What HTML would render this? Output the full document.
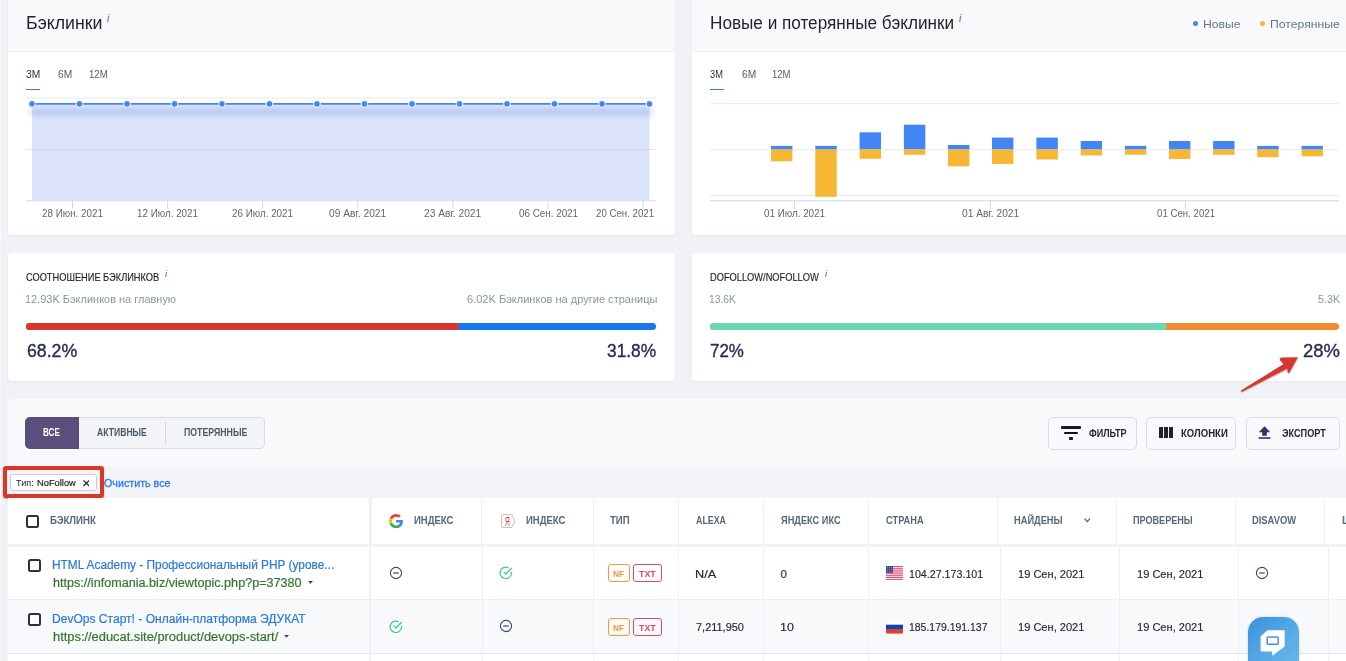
<!DOCTYPE html>
<html><head><meta charset="utf-8"><title>Бэклинки</title>
<style>
*{margin:0;padding:0;box-sizing:border-box}
html,body{width:1346px;height:661px;overflow:hidden}
body{background:#f1f2f6;font-family:"Liberation Sans",sans-serif;position:relative}
.a{position:absolute}
.t{position:absolute;line-height:1;white-space:nowrap}
</style></head><body>
<div class="a" style="left:0px;top:0px;width:1px;height:661px;background:#f8f9fb"></div>
<div class="a" style="left:8px;top:-10px;width:667px;height:245px;background:#fff;border-radius:4px;box-shadow:0 1px 2px rgba(30,40,80,.05);overflow:hidden"><div style="position:absolute;left:0;top:0;width:100%;height:62px;background:#f9f9fb;border-bottom:1.2px solid #eef0f4"></div></div>
<div class="a" style="left:692px;top:-10px;width:667px;height:245px;background:#fff;border-radius:4px;box-shadow:0 1px 2px rgba(30,40,80,.05);overflow:hidden"><div style="position:absolute;left:0;top:0;width:100%;height:62px;background:#f9f9fb;border-bottom:1.2px solid #eef0f4"></div></div>
<div class="a" style="left:8px;top:253px;width:667px;height:128px;background:#fff;border-radius:4px;box-shadow:0 1px 2px rgba(30,40,80,.05);overflow:hidden"></div>
<div class="a" style="left:692px;top:253px;width:667px;height:128px;background:#fff;border-radius:4px;box-shadow:0 1px 2px rgba(30,40,80,.05);overflow:hidden"></div>
<div class="t" style="top:13.56px;font-size:18px;color:#1f232b;left:25.80px;transform:scaleX(0.9877);transform-origin:0 0;">Бэклинки</div>
<div class="t" style="top:14.14px;font-size:10px;color:#4d5d6c;left:107.00px;transform:scaleX(1.0000);transform-origin:0 0;font-style:italic;">i</div>
<div class="t" style="top:13.56px;font-size:18px;color:#1f232b;left:709.80px;transform:scaleX(0.9527);transform-origin:0 0;">Новые и потерянные бэклинки</div>
<div class="t" style="top:14.14px;font-size:10px;color:#4d5d6c;left:959.00px;transform:scaleX(1.0000);transform-origin:0 0;font-style:italic;">i</div>
<div class="a" style="left:1193px;top:21px;width:5px;height:5px;background:#4285f4;border-radius:50%"></div>
<div class="t" style="top:19.07px;font-size:11.5px;color:#62788a;left:1203.40px;transform:scaleX(1.0596);transform-origin:0 0;">Новые</div>
<div class="a" style="left:1259.5px;top:21px;width:5px;height:5px;background:#f6b735;border-radius:50%"></div>
<div class="t" style="top:19.07px;font-size:11.5px;color:#62788a;left:1269.60px;transform:scaleX(1.0617);transform-origin:0 0;">Потерянные</div>
<div class="t" style="top:69.53px;font-size:10px;color:#2b3350;left:25.90px;transform:scaleX(1.0208);transform-origin:0 0;">3M</div>
<div class="t" style="top:69.53px;font-size:10px;color:#4f5d6a;left:57.70px;transform:scaleX(1.0201);transform-origin:0 0;">6M</div>
<div class="t" style="top:69.53px;font-size:10px;color:#4f5d6a;left:88.80px;transform:scaleX(0.9583);transform-origin:0 0;">12M</div>
<div class="a" style="left:26px;top:88.5px;width:14px;height:1.8px;background:#3a7be0"></div>
<div class="t" style="top:69.53px;font-size:10px;color:#2b3350;left:709.90px;transform:scaleX(0.9286);transform-origin:0 0;">3M</div>
<div class="t" style="top:69.53px;font-size:10px;color:#4f5d6a;left:741.50px;transform:scaleX(1.0208);transform-origin:0 0;">6M</div>
<div class="t" style="top:69.53px;font-size:10px;color:#4f5d6a;left:772.40px;transform:scaleX(0.9486);transform-origin:0 0;">12M</div>
<div class="a" style="left:710px;top:88.5px;width:14px;height:1.8px;background:#3a7be0"></div>
<svg class="a" style="left:0;top:0" width="1346" height="240" viewBox="0 0 1346 240"><defs><filter id="bl" filterUnits="userSpaceOnUse" x="0" y="90" width="700" height="50"><feGaussianBlur stdDeviation="3"/></filter><clipPath id="pc"><rect x="26.5" y="98" width="629" height="103"/></clipPath></defs><rect x="26" y="97.3" width="630" height="1.3" fill="#eeeeee"/><rect x="26" y="149" width="630" height="1" fill="#e3e7f0"/><rect x="32" y="104" width="617.5" height="96.5" fill="#dae3fa"/><g clip-path="url(#pc)"><line x1="30" y1="112" x2="652" y2="112" stroke="#7a9cf0" stroke-width="4.5" stroke-opacity="0.6" filter="url(#bl)"/></g><rect x="26" y="200" width="630" height="1.3" fill="#dce3f0"/><rect x="72.0" y="200" width="1" height="8.5" fill="#d0daee"/><rect x="167.1" y="200" width="1" height="8.5" fill="#d0daee"/><rect x="262.2" y="200" width="1" height="8.5" fill="#d0daee"/><rect x="357.3" y="200" width="1" height="8.5" fill="#d0daee"/><rect x="452.4" y="200" width="1" height="8.5" fill="#d0daee"/><rect x="547.5" y="200" width="1" height="8.5" fill="#d0daee"/><rect x="642.6" y="200" width="1" height="8.5" fill="#d0daee"/><rect x="32" y="149" width="617.5" height="1" fill="#8a94b8" fill-opacity="0.13"/><line x1="32" y1="103.9" x2="649.5" y2="103.9" stroke="#4285f4" stroke-width="1.9"/><circle cx="32.0" cy="103.9" r="3.4" fill="#4285f4" stroke="#fff" stroke-width="1"/><circle cx="79.5" cy="103.9" r="3.4" fill="#4285f4" stroke="#fff" stroke-width="1"/><circle cx="127.0" cy="103.9" r="3.4" fill="#4285f4" stroke="#fff" stroke-width="1"/><circle cx="174.5" cy="103.9" r="3.4" fill="#4285f4" stroke="#fff" stroke-width="1"/><circle cx="222.0" cy="103.9" r="3.4" fill="#4285f4" stroke="#fff" stroke-width="1"/><circle cx="269.5" cy="103.9" r="3.4" fill="#4285f4" stroke="#fff" stroke-width="1"/><circle cx="317.0" cy="103.9" r="3.4" fill="#4285f4" stroke="#fff" stroke-width="1"/><circle cx="364.5" cy="103.9" r="3.4" fill="#4285f4" stroke="#fff" stroke-width="1"/><circle cx="412.0" cy="103.9" r="3.4" fill="#4285f4" stroke="#fff" stroke-width="1"/><circle cx="459.5" cy="103.9" r="3.4" fill="#4285f4" stroke="#fff" stroke-width="1"/><circle cx="507.0" cy="103.9" r="3.4" fill="#4285f4" stroke="#fff" stroke-width="1"/><circle cx="554.5" cy="103.9" r="3.4" fill="#4285f4" stroke="#fff" stroke-width="1"/><circle cx="602.0" cy="103.9" r="3.4" fill="#4285f4" stroke="#fff" stroke-width="1"/><circle cx="649.5" cy="103.9" r="3.4" fill="#4285f4" stroke="#fff" stroke-width="1"/><rect x="710" y="103" width="629" height="1.3" fill="#eeeeee"/><rect x="710" y="149" width="629" height="1.3" fill="#eeeeee"/><rect x="710" y="195" width="629" height="1.3" fill="#eeeeee"/><rect x="710" y="200" width="629" height="1.5" fill="#dce3f0"/><rect x="793.9" y="200" width="1" height="9" fill="#d0daee"/><rect x="989.8" y="200" width="1" height="9" fill="#d0daee"/><rect x="1185.0" y="200" width="1" height="9" fill="#d0daee"/><rect x="771" y="145.9" width="21.4" height="3.6" fill="#4285f4"/><rect x="771" y="149.5" width="21.4" height="11.8" fill="#f6b735"/><rect x="815.3" y="145.9" width="21.4" height="3.6" fill="#4285f4"/><rect x="815.3" y="149.5" width="21.4" height="47.3" fill="#f6b735"/><rect x="859.6" y="132.3" width="21.4" height="17.2" fill="#4285f4"/><rect x="859.6" y="149.5" width="21.4" height="9.3" fill="#f6b735"/><rect x="903.9" y="124.7" width="21.4" height="24.8" fill="#4285f4"/><rect x="903.9" y="149.5" width="21.4" height="5.3" fill="#f6b735"/><rect x="948" y="145" width="21.4" height="4.5" fill="#4285f4"/><rect x="948" y="149.5" width="21.4" height="16.8" fill="#f6b735"/><rect x="992" y="137.6" width="21.4" height="11.9" fill="#4285f4"/><rect x="992" y="149.5" width="21.4" height="14.4" fill="#f6b735"/><rect x="1036.4" y="137.6" width="21.4" height="11.9" fill="#4285f4"/><rect x="1036.4" y="149.5" width="21.4" height="10.0" fill="#f6b735"/><rect x="1080.7" y="141" width="21.4" height="8.5" fill="#4285f4"/><rect x="1080.7" y="149.5" width="21.4" height="6.0" fill="#f6b735"/><rect x="1124.9" y="145.9" width="21.4" height="3.6" fill="#4285f4"/><rect x="1124.9" y="149.5" width="21.4" height="5.3" fill="#f6b735"/><rect x="1169" y="141" width="21.4" height="8.5" fill="#4285f4"/><rect x="1169" y="149.5" width="21.4" height="9.5" fill="#f6b735"/><rect x="1213.1" y="141" width="21.4" height="8.5" fill="#4285f4"/><rect x="1213.1" y="149.5" width="21.4" height="5.3" fill="#f6b735"/><rect x="1257.2" y="145.9" width="21.4" height="3.6" fill="#4285f4"/><rect x="1257.2" y="149.5" width="21.4" height="7.7" fill="#f6b735"/><rect x="1301.5" y="145.9" width="21.4" height="3.6" fill="#4285f4"/><rect x="1301.5" y="149.5" width="21.4" height="6.8" fill="#f6b735"/></svg>
<div class="t" style="top:208.63px;font-size:10px;color:#666666;left:41.90px;transform:scaleX(0.9849);transform-origin:0 0;">28 Июн. 2021</div>
<div class="t" style="top:208.63px;font-size:10px;color:#666666;left:136.80px;transform:scaleX(0.9843);transform-origin:0 0;">12 Июл. 2021</div>
<div class="t" style="top:208.63px;font-size:10px;color:#666666;left:232.30px;transform:scaleX(0.9845);transform-origin:0 0;">26 Июл. 2021</div>
<div class="t" style="top:208.63px;font-size:10px;color:#666666;left:329.10px;transform:scaleX(1.0187);transform-origin:0 0;">09 Авг. 2021</div>
<div class="t" style="top:208.63px;font-size:10px;color:#666666;left:424.00px;transform:scaleX(1.0179);transform-origin:0 0;">23 Авг. 2021</div>
<div class="t" style="top:208.63px;font-size:10px;color:#666666;left:518.50px;transform:scaleX(0.9839);transform-origin:0 0;">06 Сен. 2021</div>
<div class="t" style="top:208.63px;font-size:10px;color:#666666;left:595.60px;transform:scaleX(0.9673);transform-origin:0 0;">20 Сен. 2021</div>
<div class="t" style="top:208.63px;font-size:10px;color:#666666;left:763.90px;transform:scaleX(0.9845);transform-origin:0 0;">01 Июл. 2021</div>
<div class="t" style="top:208.63px;font-size:10px;color:#666666;left:961.60px;transform:scaleX(1.0179);transform-origin:0 0;">01 Авг. 2021</div>
<div class="t" style="top:208.63px;font-size:10px;color:#666666;left:1156.50px;transform:scaleX(0.9673);transform-origin:0 0;">01 Сен. 2021</div>
<div class="t" style="top:272.68px;font-size:10.3px;color:#1c1f26;left:26.10px;transform:scaleX(0.8985);transform-origin:0 0;-webkit-text-stroke:0.15px #1c1f26;">СООТНОШЕНИЕ БЭКЛИНКОВ</div>
<div class="t" style="top:269.98px;font-size:9px;color:#4d5d6c;left:165.00px;transform:scaleX(1.0000);transform-origin:0 0;font-style:italic;">i</div>
<div class="t" style="top:293.84px;font-size:10.7px;color:#8797a5;left:25.30px;transform:scaleX(1.0265);transform-origin:0 0;">12.93K Бэклинков на главную</div>
<div class="t" style="top:293.84px;font-size:10.7px;color:#8797a5;left:466.50px;transform:scaleX(1.0326);transform-origin:0 0;">6.02K Бэклинков на другие страницы</div>
<div class="a" style="left:26px;top:323px;width:630px;height:7px;border-radius:4px;background:#1677f0"></div>
<div class="a" style="left:26px;top:323px;width:433px;height:7px;border-radius:4px;background:#d9372e"></div>
<div class="t" style="top:341.52px;font-size:18.4px;color:#262b52;left:26.70px;transform:scaleX(0.9631);transform-origin:0 0;-webkit-text-stroke:0.35px #262b52;">68.2%</div>
<div class="t" style="top:341.52px;font-size:18.4px;color:#262b52;left:607.00px;transform:scaleX(0.9416);transform-origin:0 0;-webkit-text-stroke:0.35px #262b52;">31.8%</div>
<div class="t" style="top:272.68px;font-size:10.3px;color:#1c1f26;left:709.60px;transform:scaleX(0.9008);transform-origin:0 0;-webkit-text-stroke:0.15px #1c1f26;">DOFOLLOW/NOFOLLOW</div>
<div class="t" style="top:269.98px;font-size:9px;color:#4d5d6c;left:825.00px;transform:scaleX(1.0000);transform-origin:0 0;font-style:italic;">i</div>
<div class="t" style="top:293.84px;font-size:10.7px;color:#8797a5;left:709.00px;transform:scaleX(0.9664);transform-origin:0 0;">13.6K</div>
<div class="t" style="top:293.84px;font-size:10.7px;color:#8797a5;left:1317.70px;transform:scaleX(1.0077);transform-origin:0 0;">5.3K</div>
<div class="a" style="left:710px;top:323px;width:629.3px;height:7px;border-radius:4px;background:#f08a33"></div>
<div class="a" style="left:710px;top:323px;width:457px;height:7px;border-radius:4px;background:#6bd6b1"></div>
<div class="t" style="top:341.52px;font-size:18.4px;color:#262b52;left:710.00px;transform:scaleX(0.9193);transform-origin:0 0;-webkit-text-stroke:0.35px #262b52;">72%</div>
<div class="t" style="top:341.52px;font-size:18.4px;color:#262b52;left:1303.00px;transform:scaleX(1.0031);transform-origin:0 0;-webkit-text-stroke:0.35px #262b52;">28%</div>
<div class="a" style="left:8px;top:399px;width:1400px;height:68px;background:#f9f9fb;border-radius:4px 0 0 0"></div>
<div class="a" style="left:8px;top:467px;width:1400px;height:31px;background:#f3f4f8"></div>
<div class="a" style="left:25px;top:417.4px;width:239.6px;height:31.3px;border:1px solid #d9dce4;border-radius:5px;background:#f3f4f8"></div>
<div class="a" style="left:164.9px;top:422.2px;width:1px;height:21.4px;background:#d5d8e0"></div>
<div class="a" style="left:25px;top:416.8px;width:54px;height:32px;background:#5a4f7c;border-radius:5px 0 0 5px"></div>
<div class="t" style="top:428.34px;font-size:10px;color:#fff;font-weight:700;left:43.20px;transform:scaleX(0.8093);transform-origin:0 0;">ВСЕ</div>
<div class="t" style="top:428.34px;font-size:10px;color:#4b5966;font-weight:700;left:97.10px;transform:scaleX(0.8622);transform-origin:0 0;">АКТИВНЫЕ</div>
<div class="t" style="top:428.34px;font-size:10px;color:#4b5966;font-weight:700;left:183.80px;transform:scaleX(0.8764);transform-origin:0 0;">ПОТЕРЯННЫЕ</div>
<div class="a" style="left:1048.4px;top:417px;width:88.2px;height:32.5px;border:1px solid #d9dce4;border-radius:5px;background:#f9f9fb"></div>
<div class="a" style="left:1146.4px;top:417px;width:90px;height:32.5px;border:1px solid #d9dce4;border-radius:5px;background:#f9f9fb"></div>
<div class="a" style="left:1246.2px;top:417px;width:93.4px;height:32.5px;border:1px solid #d9dce4;border-radius:5px;background:#f9f9fb"></div>
<div class="t" style="top:428.97px;font-size:10.2px;color:#1f232b;font-weight:700;left:1088.90px;transform:scaleX(0.8834);transform-origin:0 0;">ФИЛЬТР</div>
<div class="t" style="top:428.97px;font-size:10.2px;color:#1f232b;font-weight:700;left:1180.50px;transform:scaleX(0.9396);transform-origin:0 0;">КОЛОНКИ</div>
<div class="t" style="top:428.97px;font-size:10.2px;color:#1f232b;font-weight:700;left:1282.10px;transform:scaleX(0.8990);transform-origin:0 0;">ЭКСПОРТ</div>
<div class="a" style="left:1061.1px;top:426.3px;width:19.8px;height:2.3px;background:#1a1d26;border-radius:1px"></div>
<div class="a" style="left:1064.3px;top:431.9px;width:13.4px;height:2.1px;background:#0f1119;border-radius:1px"></div>
<div class="a" style="left:1068.8px;top:437.3px;width:4.3px;height:2.3px;background:#1a1d26;border-radius:0.8px"></div>
<div class="a" style="left:1158.7px;top:426.9px;width:4.2px;height:10.9px;background:#1f232b"></div>
<div class="a" style="left:1163.8px;top:426.9px;width:4.2px;height:10.9px;background:#1f232b"></div>
<div class="a" style="left:1168.9px;top:426.9px;width:4.2px;height:10.9px;background:#1f232b"></div>
<svg class="a" style="left:1258.1px;top:426px" width="13" height="13" viewBox="0 0 13 13"><path d="M6.5 0.3 L12.2 6.2 H8.8 V9.8 H4.2 V6.2 H0.8 Z" fill="#2c3566"/><rect x="0.6" y="11.2" width="11.8" height="1.6" fill="#2c3566"/></svg>
<div class="a" style="left:3.3px;top:466.3px;width:100.3px;height:32.1px;border:4px solid #d8352b;border-radius:3px;box-shadow:0 1px 1.5px rgba(0,0,0,.35)"></div>
<div class="a" style="left:10.4px;top:474.3px;width:87px;height:17.2px;background:#fff;border:1px solid #c9ccd4;border-radius:3px"></div>
<div class="t" style="top:477.97px;font-size:9.6px;color:#222;left:16.30px;transform:scaleX(0.9486);transform-origin:0 0;">Тип:</div>
<div class="t" style="top:477.97px;font-size:9.6px;color:#222;left:36.60px;transform:scaleX(0.9709);transform-origin:0 0;-webkit-text-stroke:0.2px #222;">NoFollow</div>
<svg class="a" style="left:82.6px;top:480.3px" width="6.7" height="6.4" viewBox="0 0 6.7 6.4"><path d="M0.5 0.4 L6.2 6 M6.2 0.4 L0.5 6" stroke="#222" stroke-width="1.2"/></svg>
<div class="t" style="top:477.52px;font-size:11.2px;color:#2c7be5;left:103.60px;transform:scaleX(0.9571);transform-origin:0 0;-webkit-text-stroke:0.3px #2c7be5;">Очистить все</div>
<div class="a" style="left:8px;top:497.7px;width:1400px;height:46.3px;background:#fff"></div>
<div class="a" style="left:8px;top:546.7px;width:1400px;height:52px;background:#fff"></div>
<div class="a" style="left:8px;top:599.3px;width:1400px;height:53.5px;background:#f8f9fb"></div>
<div class="a" style="left:8px;top:654px;width:1400px;height:10px;background:#fff"></div>
<div class="a" style="left:8px;top:598.6px;width:1400px;height:0.9px;background:#eceef3"></div>
<div class="a" style="left:8px;top:652.8px;width:1400px;height:1.3px;background:#dfe3eb"></div>
<div class="a" style="left:369px;top:497.7px;width:3px;height:46.3px;background:#f0f1f5"></div>
<div class="a" style="left:481px;top:497.7px;width:1px;height:46.3px;background:#eceef3"></div>
<div class="a" style="left:593px;top:497.7px;width:1px;height:46.3px;background:#eceef3"></div>
<div class="a" style="left:678px;top:497.7px;width:1px;height:46.3px;background:#eceef3"></div>
<div class="a" style="left:763px;top:497.7px;width:1px;height:46.3px;background:#eceef3"></div>
<div class="a" style="left:868px;top:497.7px;width:1px;height:46.3px;background:#eceef3"></div>
<div class="a" style="left:997px;top:497.7px;width:1px;height:46.3px;background:#eceef3"></div>
<div class="a" style="left:1116px;top:497.7px;width:1px;height:46.3px;background:#eceef3"></div>
<div class="a" style="left:1235px;top:497.7px;width:1px;height:46.3px;background:#eceef3"></div>
<div class="a" style="left:1324px;top:497.7px;width:1px;height:46.3px;background:#eceef3"></div>
<div class="a" style="left:369px;top:546.7px;width:2px;height:120px;background:#f0f1f5"></div>
<div class="a" style="left:482px;top:546.7px;width:1px;height:120px;background:#eef0f4"></div>
<div class="a" style="left:593px;top:546.7px;width:1px;height:120px;background:#eef0f4"></div>
<div class="a" style="left:678px;top:546.7px;width:1px;height:120px;background:#eef0f4"></div>
<div class="a" style="left:763px;top:546.7px;width:1px;height:120px;background:#eef0f4"></div>
<div class="a" style="left:868px;top:546.7px;width:1px;height:120px;background:#eef0f4"></div>
<div class="a" style="left:1000px;top:546.7px;width:1px;height:120px;background:#eef0f4"></div>
<div class="a" style="left:1119px;top:546.7px;width:1px;height:120px;background:#eef0f4"></div>
<div class="a" style="left:1238px;top:546.7px;width:1px;height:120px;background:#eef0f4"></div>
<div class="a" style="left:1328px;top:546.7px;width:1px;height:120px;background:#eef0f4"></div>
<div class="a" style="left:26.1px;top:515.1px;width:12.7px;height:12.7px;border:2px solid #2e313b;border-radius:2.5px;background:#fff"></div>
<div class="t" style="top:516.13px;font-size:10px;color:#56697a;font-weight:700;left:50.10px;transform:scaleX(0.9609);transform-origin:0 0;">БЭКЛИНК</div>
<div class="t" style="top:516.13px;font-size:10px;color:#56697a;font-weight:700;left:414.10px;transform:scaleX(0.9518);transform-origin:0 0;">ИНДЕКС</div>
<div class="t" style="top:516.13px;font-size:10px;color:#56697a;font-weight:700;left:525.50px;transform:scaleX(0.9518);transform-origin:0 0;">ИНДЕКС</div>
<div class="t" style="top:516.13px;font-size:10px;color:#56697a;font-weight:700;left:610.20px;transform:scaleX(0.9592);transform-origin:0 0;">ТИП</div>
<div class="t" style="top:516.13px;font-size:10px;color:#56697a;font-weight:700;left:695.70px;transform:scaleX(0.8831);transform-origin:0 0;">ALEXA</div>
<div class="t" style="top:516.13px;font-size:10px;color:#56697a;font-weight:700;left:780.50px;transform:scaleX(0.9233);transform-origin:0 0;">ЯНДЕКС ИКС</div>
<div class="t" style="top:516.13px;font-size:10px;color:#56697a;font-weight:700;left:885.90px;transform:scaleX(0.9280);transform-origin:0 0;">СТРАНА</div>
<div class="t" style="top:516.13px;font-size:10px;color:#56697a;font-weight:700;left:1014.10px;transform:scaleX(0.9265);transform-origin:0 0;">НАЙДЕНЫ</div>
<div class="t" style="top:516.13px;font-size:10px;color:#56697a;font-weight:700;left:1133.00px;transform:scaleX(0.9089);transform-origin:0 0;">ПРОВЕРЕНЫ</div>
<div class="t" style="top:516.13px;font-size:10px;color:#56697a;font-weight:700;left:1252.30px;transform:scaleX(0.9372);transform-origin:0 0;">DISAVOW</div>
<div class="t" style="top:516.13px;font-size:10px;color:#56697a;font-weight:700;left:1342.00px;">L</div>
<svg class="a" style="left:1084.3px;top:518.2px" width="6.5" height="4.6" viewBox="0 0 6.5 4.6"><path d="M0.6 0.6 L3.25 3.6 L5.9 0.6" stroke="#4f6271" stroke-width="1.3" fill="none"/></svg>
<svg class="a" style="left:388.8px;top:513.8px" width="14.2" height="14.2" viewBox="0 0 48 48"><path fill="#EA4335" d="M24 9.5c3.54 0 6.71 1.22 9.21 3.6l6.85-6.85C35.9 2.38 30.47 0 24 0 14.62 0 6.51 5.38 2.56 13.22l7.98 6.19C12.43 13.72 17.74 9.5 24 9.5z"/><path fill="#4285F4" d="M46.98 24.55c0-1.57-.15-3.09-.38-4.55H24v9.02h12.94c-.58 2.96-2.26 5.48-4.78 7.18l7.73 6c4.51-4.18 7.09-10.36 7.09-17.65z"/><path fill="#FBBC05" d="M10.53 28.59c-.48-1.45-.76-2.99-.76-4.59s.27-3.14.76-4.59l-7.98-6.19C.92 16.46 0 20.12 0 24c0 3.88.92 7.54 2.56 10.78l7.97-6.19z"/><path fill="#34A853" d="M24 48c6.48 0 11.93-2.13 15.89-5.81l-7.73-6c-2.15 1.45-4.92 2.3-8.16 2.3-6.26 0-11.57-4.22-13.47-9.91l-7.98 6.19C6.51 42.62 14.62 48 24 48z"/></svg>
<svg class="a" style="left:500.6px;top:513.8px" width="14.6" height="14.2" viewBox="0 0 14.6 14.2"><path d="M1.6 0.6 H10.6 L14 7.1 L10.6 13.6 H1.6 Q0.6 13.6 0.6 12.6 V1.6 Q0.6 0.6 1.6 0.6 Z" fill="#fff" stroke="#b9b9b9" stroke-width="0.9"/><text x="0" y="0" font-family="Liberation Sans, sans-serif" font-size="13.4" fill="#e3262a" transform="translate(3.9 11.9) scale(0.5 1)">Я</text></svg>
<div class="a" style="left:28px;top:559px;width:12.7px;height:12.7px;border:2px solid #2e313b;border-radius:2.5px;background:#fff"></div>
<div class="t" style="top:558.74px;font-size:12px;color:#2a7ad8;left:51.80px;transform:scaleX(0.9894);transform-origin:0 0;-webkit-text-stroke:0.2px #2a7ad8;">HTML Academy - Профессиональный PHP (урове...</div>
<div class="t" style="top:576.64px;font-size:12px;color:#357530;left:52.80px;transform:scaleX(1.0513);transform-origin:0 0;-webkit-text-stroke:0.2px #357530;">https://infomania.biz/viewtopic.php?p=37380</div>
<svg class="a" style="left:307.5px;top:580.8px" width="5" height="3" viewBox="0 0 5 3"><path d="M0 0 H5 L2.5 2.7 Z" fill="#3c4249"/></svg>
<svg class="a" style="left:388.85px;top:565.55px" width="14" height="14" viewBox="0 0 14 14"><circle cx="7" cy="7" r="5.6" stroke="#3d4470" stroke-width="1.1" fill="none"/><line x1="4.2" y1="7" x2="9.8" y2="7" stroke="#3d4470" stroke-width="1.2"/></svg>
<svg class="a" style="left:498.95px;top:565.85px" width="13.7" height="13.7" viewBox="0 0 24 24"><path d="M22 11.08V12a10 10 0 1 1-5.93-9.14" stroke="#3ecb91" stroke-width="2.15" fill="none" stroke-linecap="round"/><polyline points="22 4 12 14.01 9 11.01" stroke="#3ecb91" stroke-width="2.15" fill="none" stroke-linecap="round" stroke-linejoin="round"/></svg>
<div class="a" style="left:608.2px;top:564.2px;width:21.5px;height:17.6px;border:1.2px solid #f39a3c;border-radius:3px"></div>
<div class="a" style="left:633px;top:564.2px;width:28.7px;height:17.6px;border:1.2px solid #e0466e;border-radius:3px"></div>
<div class="t" style="top:569.65px;font-size:8.8px;color:#f0953a;font-weight:700;left:613.10px;transform:scaleX(0.9419);transform-origin:0 0;">NF</div>
<div class="t" style="top:569.65px;font-size:8.8px;color:#e0466e;font-weight:700;left:638.90px;transform:scaleX(1.0105);transform-origin:0 0;">TXT</div>
<div class="t" style="top:568.85px;font-size:11.4px;color:#26282d;left:694.80px;transform:scaleX(1.1178);transform-origin:0 0;-webkit-text-stroke:0.15px #26282d;">N/A</div>
<div class="t" style="top:568.85px;font-size:11.4px;color:#26282d;left:780.50px;transform:scaleX(1.0000);transform-origin:0 0;-webkit-text-stroke:0.15px #26282d;">0</div>
<svg class="a" style="left:885.9px;top:565.8px" width="17.1" height="14.2" viewBox="0 0 17.1 14.2"><rect width="17.1" height="14.2" fill="#f4e6ea"/><rect x="0" y="0.000" width="17.1" height="1.092" fill="#e0506a"/><rect x="0" y="2.185" width="17.1" height="1.092" fill="#e0506a"/><rect x="0" y="4.369" width="17.1" height="1.092" fill="#e0506a"/><rect x="0" y="6.554" width="17.1" height="1.092" fill="#e0506a"/><rect x="0" y="8.738" width="17.1" height="1.092" fill="#e0506a"/><rect x="0" y="10.923" width="17.1" height="1.092" fill="#e0506a"/><rect x="0" y="13.108" width="17.1" height="1.092" fill="#e0506a"/><rect x="0" y="0" width="7" height="7.1" fill="#3f4a88"/><circle cx="1.3" cy="1.3" r="0.45" fill="#c9cde6"/><circle cx="3.5" cy="1.3" r="0.45" fill="#c9cde6"/><circle cx="5.7" cy="1.3" r="0.45" fill="#c9cde6"/><circle cx="1.3" cy="3.5" r="0.45" fill="#c9cde6"/><circle cx="3.5" cy="3.5" r="0.45" fill="#c9cde6"/><circle cx="5.7" cy="3.5" r="0.45" fill="#c9cde6"/><circle cx="1.3" cy="5.7" r="0.45" fill="#c9cde6"/><circle cx="3.5" cy="5.7" r="0.45" fill="#c9cde6"/><circle cx="5.7" cy="5.7" r="0.45" fill="#c9cde6"/></svg>
<div class="t" style="top:568.85px;font-size:11.4px;color:#26282d;left:909.00px;transform:scaleX(0.9369);transform-origin:0 0;-webkit-text-stroke:0.15px #26282d;">104.27.173.101</div>
<div class="t" style="top:568.85px;font-size:11.4px;color:#26282d;left:1017.70px;transform:scaleX(0.9715);transform-origin:0 0;-webkit-text-stroke:0.15px #26282d;">19 Сен, 2021</div>
<div class="t" style="top:568.85px;font-size:11.4px;color:#26282d;left:1136.60px;transform:scaleX(0.9715);transform-origin:0 0;-webkit-text-stroke:0.15px #26282d;">19 Сен, 2021</div>
<svg class="a" style="left:1255.00px;top:565.55px" width="14" height="14" viewBox="0 0 14 14"><circle cx="7" cy="7" r="5.6" stroke="#3d4470" stroke-width="1.1" fill="none"/><line x1="4.2" y1="7" x2="9.8" y2="7" stroke="#3d4470" stroke-width="1.2"/></svg>
<div class="a" style="left:28px;top:613px;width:12.7px;height:12.7px;border:2px solid #2e313b;border-radius:2.5px;background:#fff"></div>
<div class="t" style="top:612.54px;font-size:12px;color:#2a7ad8;left:51.80px;transform:scaleX(1.0040);transform-origin:0 0;-webkit-text-stroke:0.2px #2a7ad8;">DevOps Старт! - Онлайн-платформа ЭДУКАТ</div>
<div class="t" style="top:630.54px;font-size:12px;color:#357530;left:52.80px;transform:scaleX(1.0721);transform-origin:0 0;-webkit-text-stroke:0.2px #357530;">https://educat.site/product/devops-start/</div>
<svg class="a" style="left:284.2px;top:634.6px" width="5" height="3" viewBox="0 0 5 3"><path d="M0 0 H5 L2.5 2.7 Z" fill="#3a5a36"/></svg>
<svg class="a" style="left:388.95px;top:619.65px" width="13.7" height="13.7" viewBox="0 0 24 24"><path d="M22 11.08V12a10 10 0 1 1-5.93-9.14" stroke="#3ecb91" stroke-width="2.15" fill="none" stroke-linecap="round"/><polyline points="22 4 12 14.01 9 11.01" stroke="#3ecb91" stroke-width="2.15" fill="none" stroke-linecap="round" stroke-linejoin="round"/></svg>
<svg class="a" style="left:498.85px;top:619.40px" width="14" height="14" viewBox="0 0 14 14"><circle cx="7" cy="7" r="5.6" stroke="#3d4470" stroke-width="1.1" fill="none"/><line x1="4.2" y1="7" x2="9.8" y2="7" stroke="#3d4470" stroke-width="1.2"/></svg>
<div class="a" style="left:608.2px;top:618.2px;width:21.5px;height:17.6px;border:1.2px solid #f39a3c;border-radius:3px"></div>
<div class="a" style="left:633px;top:618.2px;width:28.7px;height:17.6px;border:1.2px solid #e0466e;border-radius:3px"></div>
<div class="t" style="top:623.65px;font-size:8.8px;color:#f0953a;font-weight:700;left:613.10px;transform:scaleX(0.9419);transform-origin:0 0;">NF</div>
<div class="t" style="top:623.65px;font-size:8.8px;color:#e0466e;font-weight:700;left:638.90px;transform:scaleX(1.0105);transform-origin:0 0;">TXT</div>
<div class="t" style="top:621.55px;font-size:11.4px;color:#26282d;left:695.80px;transform:scaleX(0.9614);transform-origin:0 0;-webkit-text-stroke:0.15px #26282d;">7,211,950</div>
<div class="t" style="top:621.55px;font-size:11.4px;color:#26282d;left:779.50px;transform:scaleX(1.1005);transform-origin:0 0;-webkit-text-stroke:0.15px #26282d;">10</div>
<svg class="a" style="left:885.9px;top:621px" width="17.1" height="12.8" viewBox="0 0 17.1 12.8"><clipPath id="rc"><rect width="17.1" height="12.8" rx="1.3"/></clipPath><g clip-path="url(#rc)"><rect width="17.1" height="3.8" fill="#ffffff"/><rect y="3.7" width="17.1" height="4.4" fill="#0d44b6"/><rect y="8" width="17.1" height="4.8" fill="#e23d2f"/></g></svg>
<div class="t" style="top:621.55px;font-size:11.4px;color:#26282d;left:909.00px;transform:scaleX(0.9174);transform-origin:0 0;-webkit-text-stroke:0.15px #26282d;">185.179.191.137</div>
<div class="t" style="top:621.55px;font-size:11.4px;color:#26282d;left:1017.70px;transform:scaleX(0.9715);transform-origin:0 0;-webkit-text-stroke:0.15px #26282d;">19 Сен, 2021</div>
<div class="t" style="top:621.55px;font-size:11.4px;color:#26282d;left:1136.60px;transform:scaleX(0.9715);transform-origin:0 0;-webkit-text-stroke:0.15px #26282d;">19 Сен, 2021</div>
<div class="a" style="left:1248.3px;top:616.9px;width:50.6px;height:60px;border-radius:15px;background:linear-gradient(135deg,#3a92dd 0%,#55a9e5 50%,#6bbbea 100%);box-shadow:0 0 3px rgba(60,120,200,.25)"></div>
<svg class="a" style="left:1248px;top:617px" width="51" height="44" viewBox="1248 617 51 44"><path d="M1260.6 636.4 L1267.4 630.3 H1284.7 V646.5 L1272.4 655.8 L1272 651.4 H1260.6 Z" fill="#fff"/><rect x="1267.2" y="636.9" width="11" height="7.3" rx="0.8" fill="none" stroke="#4a90dc" stroke-width="1.5"/></svg>
<svg class="a" style="left:0;top:0" width="1346" height="661" viewBox="0 0 1346 661"><defs><filter id="sh" x="-20%" y="-20%" width="140%" height="140%"><feDropShadow dx="0.4" dy="0.9" stdDeviation="0.7" flood-color="#000" flood-opacity="0.35"/></filter></defs><path d="M1240.9 390.5 L1283.6 364.1 L1279.9 360.1 Q1279.3 358.2 1281.2 357.6 L1297.9 357.2 L1289.6 372 Q1288.6 373.6 1287.6 372.3 L1287.3 368.4 L1242.2 391.6 Q1240.6 391.8 1240.9 390.5 Z" fill="#da362f" filter="url(#sh)"/></svg>
</body></html>
